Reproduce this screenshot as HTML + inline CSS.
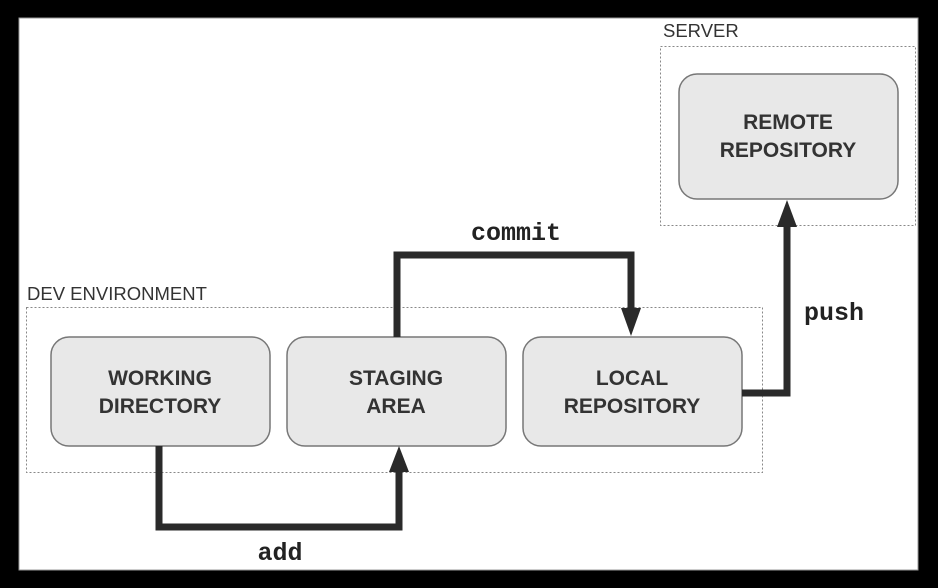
<!DOCTYPE html>
<html><head><style>
body{margin:0;width:938px;height:588px;background:#000;overflow:hidden}
</style></head><body>
<svg width="938" height="588" xmlns="http://www.w3.org/2000/svg" style="position:absolute;left:0;top:0">
<rect x="19" y="18" width="899" height="552" fill="#fff" stroke="#999" stroke-width="1"/>
<rect x="26.5" y="307.5" width="736" height="165" fill="none" stroke="#888" stroke-dasharray="2,2"/>
<rect x="660.5" y="46.5" width="255" height="179" fill="none" stroke="#888" stroke-dasharray="2,2"/>
<g font-family="Liberation Sans, sans-serif" font-size="18.5" fill="#333">
<text x="27" y="300">DEV ENVIRONMENT</text>
<text x="663" y="37">SERVER</text>
</g>
<g fill="#e8e8e8" stroke="#777" stroke-width="1.5">
<rect x="51" y="337" width="219" height="109" rx="18"/>
<rect x="287" y="337" width="219" height="109" rx="18"/>
<rect x="523" y="337" width="219" height="109" rx="18"/>
<rect x="679" y="74" width="219" height="125" rx="18"/>
</g>
<g font-family="Liberation Sans, sans-serif" font-size="21" font-weight="bold" fill="#333" text-anchor="middle">
<text x="160" y="385">WORKING</text><text x="160" y="413">DIRECTORY</text>
<text x="396" y="385">STAGING</text><text x="396" y="413">AREA</text>
<text x="632" y="385">LOCAL</text><text x="632" y="413">REPOSITORY</text>
<text x="788" y="129">REMOTE</text><text x="788" y="157">REPOSITORY</text>
</g>
<g fill="none" stroke="#2a2a2a" stroke-width="7" stroke-linejoin="miter">
<polyline points="159,446 159,527 399,527 399,470"/>
<polyline points="397,337 397,255 631,255 631,310"/>
<polyline points="742,393 787,393 787,225"/>
</g>
<g fill="#2a2a2a">
<polygon points="389,472 409,472 399,446"/>
<polygon points="621,308 641,308 631,336"/>
<polygon points="777,227 797,227 787,200"/>
</g>
<g font-family="Liberation Mono, monospace" font-size="25" font-weight="bold" fill="#222" text-anchor="middle">
<text x="516" y="240">commit</text>
<text x="834" y="320">push</text>
<text x="280" y="560">add</text>
</g>
</svg>
</body></html>
